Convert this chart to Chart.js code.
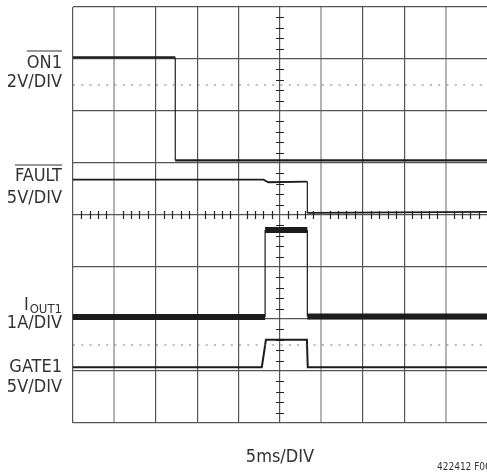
<!DOCTYPE html>
<html>
<head>
<meta charset="utf-8">
<script src="https://cdn.jsdelivr.net/npm/chart.js@4.4.1/dist/chart.umd.min.js"></script>
<style>
  html, body { margin: 0; padding: 0; background: #fff; }
  #scope { display: block; }
</style>
</head>
<body>
<canvas id="scope" width="487" height="472"></canvas>
<script>
// tiempo en ms (5ms/DIV, 10 divisiones), niveles en divisiones (8 divisiones)
const on1Time = [0, 12.35, 12.35, 50];
const on1Div = [7.03, 7.03, 5.05, 5.05];

const faultTime = [0, 23.0, 23.6, 28.3, 28.3, 50];
const faultDiv = [4.68, 4.68, 4.63, 4.64, 4.04, 4.06];

const ioutTime = [0, 23.2, 23.2, 28.3, 28.3, 50];
const ioutDiv = [2.04, 2.04, 3.71, 3.71, 2.05, 2.05];

const gateTime = [0, 22.8, 23.3, 28.25, 28.35, 50];
const gateDiv = [1.07, 1.07, 1.60, 1.60, 1.07, 1.07];

// líneas punteadas de referencia
const refTime = [0, 50];
const refLevels = [6.5, 1.5];

// rejilla: columnas en gris claro
const lightCols = [5, 30, 45];

function puntos(xs, ys) {
    return xs.map((x, i) => ({ x: x, y: ys[i] }));
}

function anchoSegmento(grueso) {
    return ctx => ctx.p0.parsed.x === ctx.p1.parsed.x ? 1.2 : grueso;
}

function traza(xs, ys, grueso) {
    return {
        data: puntos(xs, ys),
        borderColor: '#1c1c1c',
        borderWidth: grueso,
        pointRadius: 0,
        tension: 0,
        segment: { borderWidth: anchoSegmento(grueso) }
    };
}

const datasets = [];
refLevels.forEach(lv => {
    datasets.push({
        data: puntos(refTime, [lv, lv]),
        borderColor: '#777',
        borderWidth: 1,
        borderDash: [2, 6.3],
        pointRadius: 0
    });
});
datasets.push(traza(on1Time, on1Div, 2.2));
datasets.push(traza(faultTime, faultDiv, 1.8));
datasets.push(traza(ioutTime, ioutDiv, 6));
datasets.push(traza(gateTime, gateDiv, 2));

// marcas menores en los ejes centrales + textos
const marcasPlugin = {
    id: 'marcas',
    beforeDatasetsDraw(chart) {
        const c = chart.ctx;
        const xs = chart.scales.x, ys = chart.scales.y;
        const cx = xs.getPixelForValue(25), cy = ys.getPixelForValue(4);
        c.save();
        c.strokeStyle = '#222';
        c.lineWidth = 1.2;
        c.beginPath();
        for (let t = 0; t <= 50; t += 1) {
            if (t % 5 === 0) continue;
            const px = Math.round(xs.getPixelForValue(t)) + 0.5;
            c.moveTo(px, cy - 4); c.lineTo(px, cy + 4);
        }
        for (let v = 0; v <= 40; v += 1) {
            if (v % 5 === 0) continue;
            const py = Math.round(ys.getPixelForValue(v / 5)) + 0.5;
            c.moveTo(cx - 4, py); c.lineTo(cx + 4, py);
        }
        c.stroke();
        c.restore();
    },
    afterDraw(chart) {
        const c = chart.ctx;
        const fam = '"Liberation Sans Narrow", "DejaVu Sans Condensed", sans-serif';
        c.save();
        c.fillStyle = '#333';
        c.strokeStyle = '#333';
        c.textBaseline = 'alphabetic';
        c.font = '18px ' + fam;
        c.textAlign = 'right';
        const R = 62;

        function sobre(txt, y, yl) {
            c.fillText(txt, R, y);
            const w = c.measureText(txt).width;
            c.lineWidth = 1.2;
            c.beginPath();
            c.moveTo(R - w, yl); c.lineTo(R, yl);
            c.stroke();
        }
        sobre('ON1', 68, 51);
        c.fillText('2V/DIV', R, 87);
        sobre('FAULT', 181, 165);
        c.fillText('5V/DIV', R, 203);

        // I con subíndice OUT1
        c.font = '13px ' + fam;
        const wSub = c.measureText('OUT1').width;
        c.fillText('OUT1', R, 313);
        c.font = '18px ' + fam;
        c.fillText('I', R - wSub - 1, 310);
        c.fillText('1A/DIV', R, 328);

        c.fillText('GATE1', R, 372);
        c.fillText('5V/DIV', R, 392);

        c.textAlign = 'center';
        c.fillText('5ms/DIV', 280, 462);

        c.font = '10px ' + fam;
        c.textAlign = 'left';
        c.fillText('422412 F06', 437, 470);
        c.restore();
    }
};

new Chart(document.getElementById('scope'), {
    type: 'line',
    data: { datasets: datasets },
    options: {
        responsive: false,
        animation: false,
        devicePixelRatio: 1,
        layout: { padding: { left: 73, top: 7, right: 0, bottom: 49 } },
        plugins: { legend: { display: false }, tooltip: { enabled: false } },
        scales: {
            x: {
                type: 'linear', min: 0, max: 50,
                ticks: { display: false, stepSize: 5 },
                border: { display: false },
                grid: {
                    drawTicks: false,
                    color: ctx => ctx.tick.value === 50 ? 'rgba(0,0,0,0)' :
                        (lightCols.includes(ctx.tick.value) ? '#b3b3b3' : '#555'),
                    lineWidth: ctx => lightCols.includes(ctx.tick.value) ? 2 : 1.2
                }
            },
            y: {
                type: 'linear', min: 0, max: 8,
                ticks: { display: false, stepSize: 1 },
                border: { display: false },
                grid: { drawTicks: false, color: '#555', lineWidth: 1.2 }
            }
        }
    },
    plugins: [marcasPlugin]
});
</script>
</body>
</html>
